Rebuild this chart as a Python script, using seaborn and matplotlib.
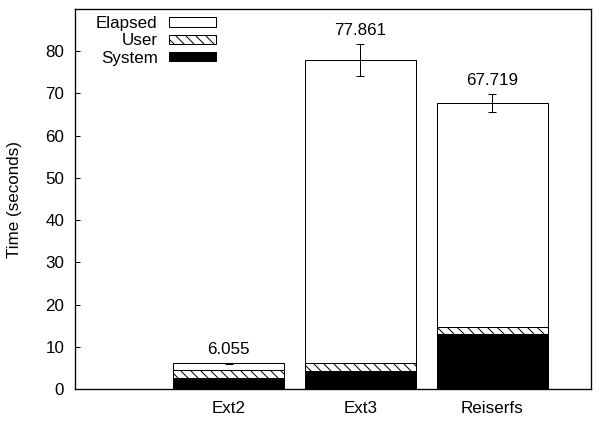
import matplotlib
matplotlib.use("Agg")
import matplotlib.pyplot as plt
import seaborn as sns
import pandas as pd
from matplotlib.patches import Patch

categories = ["Ext2", "Ext3", "Reiserfs"]
elapsed = [6.055, 77.861, 67.719]
elapsed_err = [0.15, 3.8, 2.1]
user = [1.96, 1.9, 1.8]
system = [2.53, 4.18, 12.93]
value_labels = ["6.055", "77.861", "67.719"]
y_ticks = [0, 10, 20, 30, 40, 50, 60, 70, 80]

sns.set_theme(style="white")
plt.rcParams["font.family"] = ["Liberation Sans", "DejaVu Sans"]
plt.rcParams["hatch.linewidth"] = 0.6
plt.rcParams["text.color"] = "black"
plt.rcParams["axes.labelcolor"] = "black"
plt.rcParams["xtick.color"] = "black"
plt.rcParams["ytick.color"] = "black"
FS = 10.2

df = pd.DataFrame({
    "fs": categories,
    "elapsed": elapsed,
    "usersys": [u + s for u, s in zip(user, system)],
    "system": system,
})

fig = plt.figure(figsize=(5, 421 / 120), dpi=120)
ax = fig.add_axes([75 / 600, 1 - 389 / 421, 516 / 600, 380 / 421])

common = dict(data=df, x="fs", order=categories, width=0.84, ax=ax,
              edgecolor="black", linewidth=0.6)
sns.barplot(y="elapsed", color="white", **common)
sns.barplot(y="usersys", color="white", hatch="\\\\\\\\", **common)
sns.barplot(y="system", color="black", **common)
for p in ax.patches:
    p.set_edgecolor("black")

ax.errorbar(range(len(categories)), elapsed, yerr=elapsed_err, fmt="none",
            ecolor="black", elinewidth=0.6, capsize=2.5, capthick=0.6)
for i, (v, e, lab) in enumerate(zip(elapsed, elapsed_err, value_labels)):
    ax.annotate(lab, (i, v + e), xytext=(0, 8.0), textcoords="offset points",
                ha="center", va="center", fontsize=FS, color="black")

ax.set_xlim(-1.167, 2.75)
ax.set_ylim(0, 90)
ax.set_yticks(y_ticks)
ax.set_yticklabels([str(t) for t in y_ticks], fontsize=FS)
ax.set_xticks(range(len(categories)))
ax.set_xticklabels(categories, fontsize=FS)
ax.set_xlabel("")
ax.set_ylabel("Time (seconds)", fontsize=FS, labelpad=14)
ax.tick_params(axis="y", direction="in", length=3, width=0.6, left=True, pad=6.5,
               colors="black")
ax.tick_params(axis="x", length=0, pad=7, colors="black")
for s in ax.spines.values():
    s.set_visible(True)
    s.set_color("black")
    s.set_linewidth(0.8)

handles = [
    Patch(facecolor="white", edgecolor="black", linewidth=0.6, label="Elapsed"),
    Patch(facecolor="white", edgecolor="black", linewidth=0.6, hatch="\\\\\\\\", label="User"),
    Patch(facecolor="black", edgecolor="black", linewidth=0.6, label="System"),
]
ax.legend(handles=handles, loc="upper left", bbox_to_anchor=(96 / 600, 1 - 16 / 421),
          bbox_transform=fig.transFigure, frameon=False, markerfirst=False,
          fontsize=FS, handlelength=2.76, handleheight=0.45, handletextpad=0.65,
          labelspacing=0.14, borderpad=0, borderaxespad=0, labelcolor="black")

fig.savefig("out.png", dpi=120)
